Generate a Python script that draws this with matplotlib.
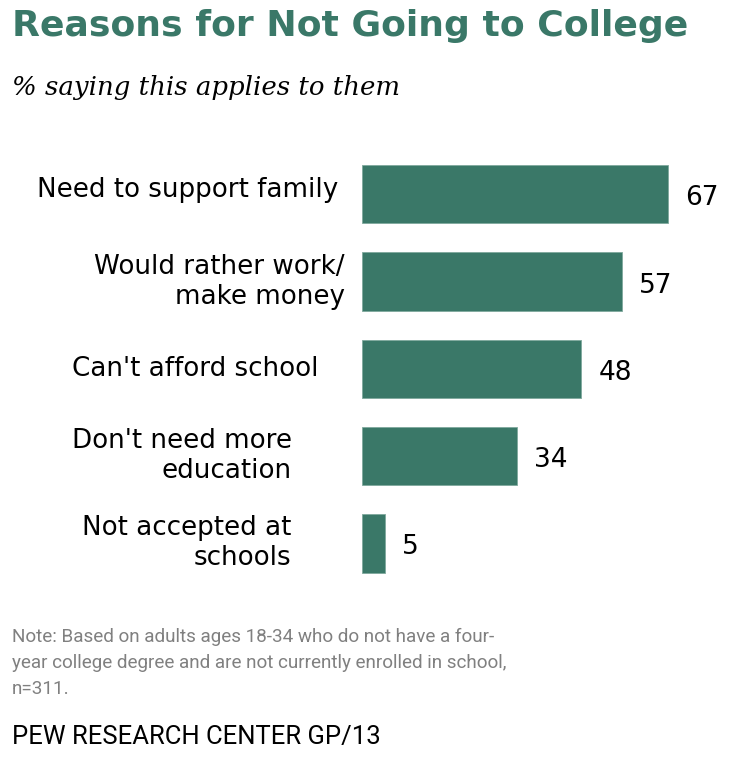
#!/usr/bin/env python3
"""plot: reasons for not going to college bar chart"""

import matplotlib

matplotlib.use("Agg")
import matplotlib.pyplot as plt
from matplotlib.transforms import blended_transform_factory

W, H, DPI = 748, 757, 100
GREEN = "#3a7868"
GREY = "#808080"

reasons = [
    "Need to support family",
    "Would rather work/\nmake money",
    "Can't afford school",
    "Don't need more\neducation",
    "Not accepted at\nschools",
]
shares = [67, 57, 48, 34, 5]

title = "Reasons for Not Going to College"
subtitle = "% saying this applies to them"
note = [
    "Note: Based on adults ages 18-34 who do not have a four-",
    "year college degree and are not currently enrolled in school,",
    "n=311.",
]
source = "PEW RESEARCH CENTER GP/13"

# right edge of each category label, in pixels from the left
label_right = [338, 345, 318, 292, 291]
# small vertical nudge of each label, in pixels (up is positive)
label_nudge = [4, 0, 0, 0, 0]


def px(x, y):
    """px: pixel (from top-left) to figure fraction"""
    return x / W, 1.0 - y / H


def fit_text(fig, x, y, s, width, **kw):
    """fit_text: place text at pixel x,y and scale its size to a pixel width"""
    t = fig.text(*px(x, y), s, **kw)
    r = fig.canvas.get_renderer()
    w = t.get_window_extent(r).width
    t.set_fontsize(t.get_fontsize() * width / w)
    return t


def main():
    """main: execution block"""
    fig = plt.figure(figsize=(W / DPI, H / DPI), dpi=DPI)
    fig.patch.set_facecolor("white")

    # axes: x from 362px, 4.567 px per unit; y bar centres 194..543px
    unit = 306.0 / 67.0
    xmax = 80
    top, bottom = 150.6, 587.0
    ax = fig.add_axes(
        [362 / W, 1 - bottom / H, unit * xmax / W, (bottom - top) / H]
    )
    pos = list(range(len(shares)))
    ax.barh(pos, shares, height=0.67, color=GREEN, edgecolor="#7fa99d", linewidth=0.6)
    ax.set_xlim(0, xmax)
    ax.set_ylim(len(shares) - 0.5, -0.5)
    ax.axis("off")

    for i, v in enumerate(shares):
        ax.annotate(
            f"{v}",
            xy=(v, i),
            xytext=(17 * 72 / DPI, -1 * 72 / DPI),
            textcoords="offset points",
            ha="left",
            va="center_baseline",
            fontsize=19,
            family="DejaVu Sans",
        )

    trans = blended_transform_factory(fig.transFigure, ax.transData)
    for i, (lab, xr, dy) in enumerate(zip(reasons, label_right, label_nudge)):
        ax.annotate(
            lab,
            xy=(xr / W, i),
            xycoords=trans,
            xytext=(0, dy * 72 / DPI),
            textcoords="offset points",
            ha="right",
            va="center",
            fontsize=18.8,
            family="DejaVu Sans",
            linespacing=1.2,
        )

    fit_text(
        fig, 12, 26, title, 676,
        fontsize=28, weight="bold", color=GREEN, family="DejaVu Sans", va="center",
    )
    fit_text(
        fig, 12, 88, subtitle, 388,
        fontsize=20, style="italic", color="black", family="DejaVu Serif", va="center",
    )
    notes = [
        fig.text(*px(12, 637 + 26 * j), line, fontsize=14, color=GREY,
                 family="Roboto", va="center")
        for j, line in enumerate(note)
    ]
    # scale note lines so the second (longest) line fits its width
    r = fig.canvas.get_renderer()
    w = notes[1].get_window_extent(r).width
    for t in notes:
        t.set_fontsize(t.get_fontsize() * 500 / w)
    fit_text(fig, 12, 737, source, 368, fontsize=14, color="black",
             family="Roboto", va="center")

    fig.savefig("out.png", dpi=DPI)
    plt.close(fig)


if __name__ == "__main__":
    main()
